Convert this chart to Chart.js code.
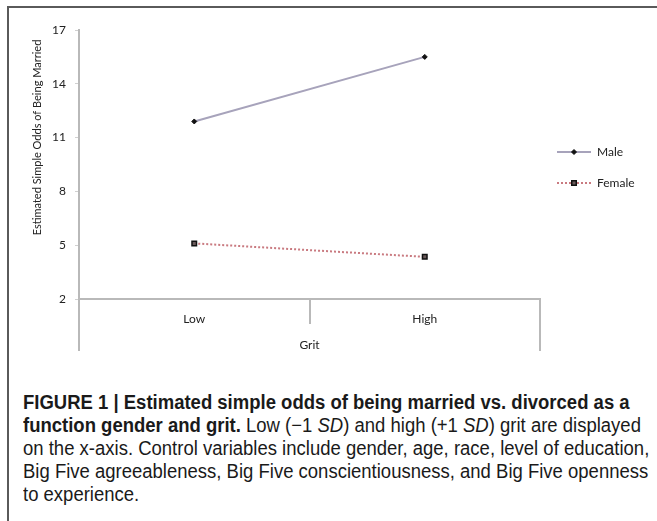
<!DOCTYPE html>
<html>
<head>
<meta charset="utf-8">
<script src="https://cdn.jsdelivr.net/npm/chart.js@4"></script>
<style>
  body { margin: 0; background: #fff; width: 657px; height: 521px; overflow: hidden; position: relative; }
  .frame { position: absolute; left: 7px; top: 6px; width: 700px; height: 600px;
           border-left: 2px solid #5a5a5a; border-top: 2px solid #5a5a5a; }
  .plot { position: absolute; left: 0; top: 0; width: 657px; height: 362px; }
  .caption { position: absolute; left: 23px; top: 391px; white-space: nowrap;
             font-family: "Liberation Sans", sans-serif;
             font-size: 20px; line-height: 23px; color: #1a1a1a;
             transform: scaleX(0.925); transform-origin: 0 0; }
  .caption b { font-weight: bold; }
</style>
</head>
<body>
<div class="frame"></div>
<div class="plot"><canvas id="grit"></canvas></div>
<div class="caption">
  <b>FIGURE 1 | Estimated simple odds of being married vs. divorced as a</b><br>
  <b>function gender and grit.</b> Low (&minus;1 <i>SD</i>) and high (+1 <i>SD</i>) grit are displayed<br>
  on the x-axis. Control variables include gender, age, race, level of education,<br>
  Big Five agreeableness, Big Five conscientiousness, and Big Five openness<br>
  to experience.
</div>
<script>
const gritLevels = ['Low', 'High'];
const maleOdds = [11.9, 15.5];
const femaleOdds = [5.1, 4.35];
const yTicks = [2, 5, 8, 11, 14, 17];

const axisGray = '#b9b9b9';
const tickFont = { family: 'Lato', size: 12 };

// y title sits a bit above the middle of the axis, and the outer category
// lines run on below the axis, so both are drawn here
const extras = {
  id: 'extras',
  afterDraw(chart) {
    const { ctx, chartArea } = chart;
    ctx.save();
    ctx.strokeStyle = axisGray;
    ctx.lineWidth = 2;
    ctx.beginPath();
    ctx.moveTo(chartArea.left, chartArea.bottom);
    ctx.lineTo(chartArea.left, chartArea.bottom + 52);
    ctx.moveTo(chartArea.right, chartArea.bottom);
    ctx.lineTo(chartArea.right, chartArea.bottom + 52);
    ctx.stroke();

    ctx.fillStyle = '#222';
    ctx.font = '11px Lato';
    ctx.textAlign = 'center';
    ctx.textBaseline = 'middle';
    ctx.translate(37, (chartArea.top + chartArea.bottom) / 2 - 27);
    ctx.rotate(-Math.PI / 2);
    ctx.fillText('Estimated Simple Odds of Being Married', 0, 0);
    ctx.restore();

    // legend: line sample with its marker, then the label
    chart.data.datasets.forEach((ds, i) => {
      const y = chartArea.top + 122 + i * 31;
      const x0 = chartArea.right + 17, x1 = chartArea.right + 51;
      ctx.save();
      ctx.strokeStyle = ds.borderColor;
      ctx.lineWidth = ds.borderWidth;
      ctx.setLineDash(ds.borderDash || []);
      ctx.beginPath();
      ctx.moveTo(x0, y);
      ctx.lineTo(x1, y);
      ctx.stroke();
      ctx.setLineDash([]);
      ctx.fillStyle = ds.pointBackgroundColor;
      ctx.strokeStyle = ds.pointBorderColor;
      ctx.lineWidth = ds.pointBorderWidth;
      Chart.helpers.drawPoint(ctx, {
        pointStyle: ds.pointStyle, radius: ds.pointRadius,
        borderWidth: ds.pointBorderWidth, rotation: 0
      }, (x0 + x1) / 2, y);
      ctx.fillStyle = '#222';
      ctx.font = '12px Lato';
      ctx.textAlign = 'left';
      ctx.textBaseline = 'middle';
      ctx.fillText(ds.label, chartArea.right + 57, y);
      ctx.restore();
    });
  }
};

new Chart(document.getElementById('grit'), {
  type: 'line',
  data: {
    labels: gritLevels,
    datasets: [
      {
        label: 'Male',
        data: maleOdds,
        borderColor: '#a7a3bb',
        borderWidth: 2,
        pointStyle: 'rectRot',
        pointRadius: 2.5,
        pointBackgroundColor: '#111',
        pointBorderColor: '#111',
        pointBorderWidth: 1
      },
      {
        label: 'Female',
        data: femaleOdds,
        borderColor: '#c97a80',
        borderWidth: 2,
        borderDash: [2, 2],
        pointStyle: 'rect',
        pointRadius: 3.2,
        pointBackgroundColor: '#6a5a5a',
        pointBorderColor: '#111',
        pointBorderWidth: 1.5
      }
    ]
  },
  options: {
    responsive: true,
    maintainAspectRatio: false,
    animation: false,
    layout: { padding: { left: 9, top: 30, right: 117, bottom: 8 } },
    plugins: { legend: { display: false }, tooltip: { enabled: false } },
    scales: {
      x: {
        offset: true,
        grid: { offset: true, drawOnChartArea: false, drawTicks: true, tickLength: 25, color: axisGray, lineWidth: 2 },
        border: { display: true, color: axisGray, width: 2 },
        ticks: { font: tickFont, color: '#222', padding: -12 },
        title: { display: true, text: 'Grit', font: tickFont, color: '#222', padding: { top: 0, bottom: 2 } },
        afterFit(scale) { scale.height = 55; }
      },
      y: {
        min: 2,
        max: 17,
        afterBuildTicks(scale) { scale.ticks = yTicks.map(v => ({ value: v })); },
        grid: { drawOnChartArea: false, tickLength: 4, color: '#d0d0d0', lineWidth: 1 },
        border: { display: true, color: axisGray, width: 2 },
        ticks: { font: tickFont, color: '#222', padding: 9 },
        afterFit(scale) { scale.width = 70; }
      }
    }
  },
  plugins: [extras]
});
</script>
</body>
</html>
